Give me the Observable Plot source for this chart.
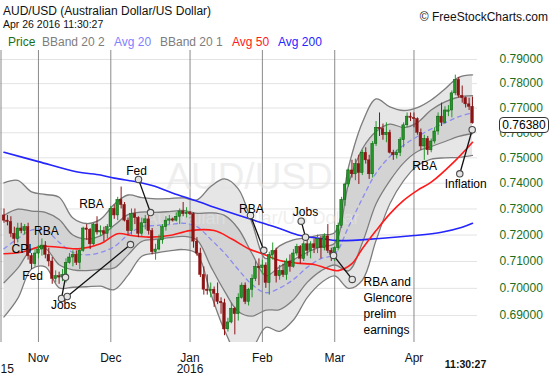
<!DOCTYPE html>
<html><head><meta charset="utf-8">
<script src="https://cdn.jsdelivr.net/npm/d3@7"></script>
<script src="https://cdn.jsdelivr.net/npm/@observablehq/plot@0.6"></script>
<style>
body{margin:0;background:#fff;}
#wrap{position:relative;width:550px;height:375px;overflow:hidden;font-family:"Liberation Sans",Arial,sans-serif;}
.t{position:absolute;white-space:nowrap;line-height:1;}
</style></head><body>
<div id="wrap"></div>
<script>
// ---- daily candles (bar index 0 = 2015-10-19 ... 136 = 2016-04-26)
const opens = [.7275,.7255,.7250,.7205,.7185,.7225,.7215,.7230,.7120,.7090,
.7130,.7145,.7160,.7125,.7100,.7035,.7045,.7040,.7050,.7095,.7115,.7125,.7095,.7140,.7225,.7220,.7165,.7240,.7210,.7215,.7205,
.7230,.7300,.7275,.7335,.7315,.7255,.7215,.7280,.7265,.7205,.7245,.7260,.7215,.7135,.7145,.7180,.7230,.7255,.7260,.7255,.7270,.7290,.7280,
.7285,.7280,.7175,.7130,.7050,.6995,.6990,.6995,.6980,.6950,.6945,.6850,.6875,.6925,.6905,.6965,.7010,.6950,.6995,.7035,.7080,
.7075,.7085,.7020,.7125,.7140,.7045,.7065,.7050,.7100,.7080,.7130,.7155,.7110,.7165,.7140,.7165,.7150,.7185,.7150,.7195,.7140,
.7125,.7150,.7235,.7335,.7395,.7450,.7435,.7475,.7440,.7520,.7490,.7435,.7555,.7620,.7615,.7590,.7600,.7520,.7510,.7520,.7570,.7630,.7665,
.7660,.7655,.7600,.7545,.7575,.7530,.7565,.7605,.7665,.7640,.7685,.7690,.7760,.7815,.7750,.7740,.7715,.7705];
const highs = [.7300,.7275,.7270,.7230,.7245,.7245,.7240,.7245,.7130,.7145,
.7160,.7185,.7175,.7150,.7115,.7065,.7060,.7070,.7110,.7130,.7140,.7140,.7150,.7230,.7240,.7225,.7245,.7270,.7235,.7230,.7240,
.7310,.7315,.7345,.7385,.7325,.7265,.7300,.7300,.7270,.7265,.7275,.7290,.7225,.7165,.7200,.7240,.7270,.7275,.7265,.7285,.7300,.7325,.7305,
.7290,.7285,.7190,.7150,.7080,.7050,.7020,.7005,.7020,.6965,.6960,.6890,.6945,.6930,.6980,.7020,.7020,.7000,.7050,.7100,.7110,
.7105,.7095,.7135,.7170,.7150,.7085,.7090,.7110,.7125,.7145,.7165,.7160,.7175,.7185,.7175,.7185,.7200,.7195,.7205,.7240,.7150,
.7155,.7245,.7345,.7400,.7455,.7490,.7495,.7510,.7530,.7540,.7510,.7565,.7645,.7680,.7635,.7640,.7610,.7530,.7530,.7580,.7640,.7680,.7680,
.7680,.7660,.7615,.7590,.7585,.7575,.7620,.7680,.7720,.7705,.7710,.7770,.7835,.7825,.7790,.7745,.7740,.7745];
const lows = [.7245,.7235,.7190,.7165,.7170,.7205,.7200,.7105,.7070,.7080,
.7110,.7120,.7110,.7080,.7015,.7020,.7015,.7025,.7020,.7090,.7080,.7085,.7070,.7135,.7180,.7145,.7160,.7200,.7195,.7175,.7185,
.7220,.7260,.7255,.7300,.7250,.7200,.7200,.7240,.7190,.7195,.7220,.7200,.7125,.7105,.7140,.7165,.7215,.7240,.7250,.7250,.7240,.7270,.7265,
.7275,.7150,.7120,.7040,.6975,.6975,.6965,.6930,.6940,.6905,.6827,.6840,.6870,.6830,.6880,.6960,.6940,.6935,.6965,.7025,.7010,
.7050,.7000,.6975,.7105,.7020,.7030,.7040,.7030,.7060,.7075,.7120,.7090,.7100,.7120,.7110,.7130,.7130,.7110,.7140,.7130,.7100,
.7100,.7140,.7225,.7310,.7385,.7420,.7410,.7395,.7430,.7475,.7415,.7420,.7545,.7585,.7570,.7560,.7515,.7490,.7495,.7505,.7540,.7620,.7645,
.7620,.7590,.7530,.7490,.7510,.7520,.7555,.7590,.7625,.7635,.7665,.7660,.7750,.7740,.7720,.7700,.7690,.7635];
const closes = [.7255,.7250,.7205,.7185,.7225,.7215,.7230,.7120,.7090,.7130,
.7145,.7160,.7125,.7100,.7035,.7045,.7040,.7050,.7095,.7115,.7125,.7095,.7140,.7225,.7220,.7165,.7240,.7210,.7215,.7205,.7230,
.7300,.7275,.7335,.7315,.7255,.7215,.7280,.7265,.7205,.7245,.7260,.7215,.7135,.7145,.7180,.7230,.7255,.7260,.7255,.7270,.7290,.7280,.7285,
.7280,.7175,.7130,.7050,.6995,.6990,.6995,.6980,.6950,.6945,.6850,.6875,.6925,.6905,.6965,.7010,.6950,.6995,.7035,.7080,.7075,
.7085,.7020,.7125,.7140,.7045,.7065,.7050,.7100,.7080,.7130,.7155,.7110,.7165,.7140,.7165,.7150,.7185,.7150,.7195,.7140,.7125,
.7150,.7235,.7335,.7395,.7450,.7435,.7475,.7440,.7520,.7490,.7435,.7555,.7620,.7615,.7590,.7600,.7520,.7510,.7520,.7570,.7630,.7665,.7660,
.7655,.7600,.7545,.7575,.7530,.7565,.7605,.7665,.7640,.7690,.7690,.7760,.7815,.7750,.7740,.7715,.7705,.7638];

// ---- Bollinger bands (20,2) / (20,1) and 20-day average, read at sample bars
const bandIdx = [0,4,8,12,16,20,24,28,32,36,40,44,48,52,56,60,64,68,72,76,80,84,88,92,96,100,104,108,112,116,120,124,128,132,136];
const bandMid = [.7148,.7187,.7219,.7218,.7173,.7134,.7125,.7134,.7156,.7201,.7232,.7236,.7240,.7245,.7232,.7184,.7132,.7070,.7014,.6984,.7001,.7033,.7078,.7111,.7128,.7231,.7340,.7440,.7505,.7550,.7585,.7615,.7640,.7665,.7680];
const bandU2 = [.7401,.7411,.7366,.7356,.7345,.7265,.7244,.7260,.7318,.7354,.7344,.7339,.7340,.7343,.7335,.7387,.7417,.7378,.7246,.7111,.7159,.7182,.7190,.7201,.7210,.7463,.7640,.7737,.7705,.7690,.7702,.7733,.7778,.7826,.7836];
const bandU1 = [.7275,.7299,.7292,.7287,.7259,.7200,.7185,.7197,.7237,.7278,.7288,.7287,.7290,.7294,.7283,.7285,.7275,.7224,.7130,.7047,.7080,.7107,.7134,.7156,.7169,.7397,.7535,.7605,.7635,.7621,.7641,.7692,.7725,.7745,.7751];
const bandL1 = [.7021,.7075,.7145,.7149,.7088,.7069,.7066,.7071,.7076,.7125,.7176,.7184,.7190,.7195,.7181,.7082,.6990,.6915,.6898,.6920,.6922,.6958,.7022,.7065,.7087,.7065,.7170,.7320,.7410,.7480,.7525,.7545,.7565,.7585,.7597];
const bandL2 = [.6895,.6963,.7072,.7080,.7002,.7004,.7006,.7008,.6995,.7049,.7120,.7132,.7140,.7145,.7129,.6981,.6847,.6761,.6782,.6857,.6843,.6884,.6966,.7020,.7046,.7000,.7030,.7180,.7320,.7410,.7470,.7495,.7500,.7502,.7510];

// ---- 50 and 200 day averages
const ma50Idx = [0,5,11,16,22,28,33,37,42,48,54,61,66,71,75,80,85,90,94,97,101,104,108,112,116,120,124,131,136];
const ma50Val = [.7129,.7135,.7157,.7154,.7148,.7167,.7205,.7198,.7192,.7198,.7217,.7217,.7186,.7148,.7129,.7104,.7094,.7089,.7073,.7066,.7092,.7148,.7217,.7281,.7333,.7372,.7404,.7489,.7562];
const ma200Idx = [0,10,21,28,32,39,43,51,57,61,71,80,86,92,97,109,119,127,133,136];
const ma200Val = [.7522,.7485,.7445,.7432,.7420,.7404,.7391,.7352,.7326,.7307,.7263,.7225,.7198,.7187,.7179,.7187,.7198,.7211,.7230,.7245];

// ---- axes
const yTicks = [0.69,0.70,0.71,0.72,0.73,0.74,0.75,0.76,0.77,0.78,0.79];
const monthLabels = ["Nov","Dec","Jan","Feb","Mar","Apr"];
const monthIdx = [10,31,54,75,96,119];
const yearLabels = ["15","2016"];
const stamp = "11:30:27";

// ---- annotations
const noteText = ["CPI","Fed","RBA","Jobs","RBA","Fed","RBA","Jobs","RBA","Inflation"];
const noteIdx = [5.1,8.3,12.3,17.3,25.4,38.5,71.8,87.5,122.1,134.0];
const notePrice = [0.7145,0.7044,0.7214,0.6937,0.7317,0.7446,0.7298,0.7286,0.7466,0.7395];
const bigNote = "RBA and\nGlencore\nprelim\nearnings";
const bigNoteIdx = 104.35, bigNotePrice = 0.7050;
const leadFromIdx = [16.69,18.35,39.04,71.55,86.27,101.07,132.3];
const leadFromPrice = [0.6963,0.6970,0.7415,0.7275,0.7253,0.7033,0.7437];
const leadToIdx = [17.85,36.72,42.53,75.41,87.52,95.65,135.9];
const leadToPrice = [0.7041,0.7164,0.7286,0.7142,0.7192,0.7123,0.7612];

// ---- build tables
const bars = closes.map((c,i)=>({i, o:opens[i], h:highs[i], l:lows[i], c, up:c>=opens[i]}));
const band = bandIdx.map((i,k)=>({i, mid:bandMid[k], u2:bandU2[k], u1:bandU1[k], l1:bandL1[k], l2:bandL2[k]}));
const ma50 = ma50Idx.map((i,k)=>({i, v:ma50Val[k]}));
const ma200 = ma200Idx.map((i,k)=>({i, v:ma200Val[k]}));
const notes = noteText.map((t,k)=>({t, i:noteIdx[k], p:notePrice[k]}));
const leads = leadFromIdx.map((a,k)=>({x1:a, y1:leadFromPrice[k], x2:leadToIdx[k], y2:leadToPrice[k]}));
const circles = leads.flatMap(d=>[{i:d.x1,p:d.y1},{i:d.x2,p:d.y2}]);

const UP="#23962a", UPS="#0d5c0d", DN="#8b1414";
const curve="catmull-rom";
const bandLine = {x:"i", stroke:"#7d7d7d", strokeWidth:1.3, curve, clip:true};
const fmt = d3.format(".5f");

const chart = Plot.plot({
  width:550, height:375,
  marginLeft:0, marginRight:73, marginTop:50, marginBottom:33,
  style:{fontFamily:'"Liberation Sans", Arial, sans-serif', fontSize:"12px", background:"white", overflow:"visible"},
  x:{type:"linear", domain:[-1.016,137.44], axis:null},
  y:{type:"log", domain:[0.68025,0.79377], axis:null},
  marks:[
    Plot.ruleY(yTicks,{stroke:"#e3e3e3"}),
    Plot.areaY(band,{x:"i", y1:"l2", y2:"u2", fill:"#e6e6e6", curve, clip:true}),
    Plot.areaY(band,{x:"i", y1:"l1", y2:"u1", fill:"#d3d3d3", curve, clip:true}),
    Plot.ruleX(monthIdx,{stroke:"#8a8a8a"}),
    Plot.ruleX([-1.016],{stroke:"#8a8a8a", dx:0.5}),
    Plot.text(["AUD/USD"],{text:d=>d, frameAnchor:"top-left", textAnchor:"middle", lineAnchor:"middle", dx:249, dy:127, fontSize:37, fill:"#e4e4e4", fillOpacity:0.6}),
    Plot.text(["Australian Dollar/US Dollar"],{text:d=>d, frameAnchor:"top-left", textAnchor:"middle", lineAnchor:"middle", dx:252, dy:168, fontSize:18, fill:"#e4e4e4", fillOpacity:0.6}),
    Plot.line(band,{...bandLine, y:"u2"}),
    Plot.line(band,{...bandLine, y:"u1"}),
    Plot.line(band,{...bandLine, y:"l1"}),
    Plot.line(band,{...bandLine, y:"l2"}),
    Plot.line(band,{x:"i", y:"mid", stroke:"#8c8cf0", strokeWidth:1.3, strokeDasharray:"4,4", curve}),
    Plot.line(ma200,{x:"i", y:"v", stroke:"#2424ff", strokeWidth:1.6, curve}),
    Plot.line(ma50,{x:"i", y:"v", stroke:"#ff1a1a", strokeWidth:1.6, curve}),
    Plot.ruleX(bars,{x:"i", y1:"l", y2:"h", stroke:d=>d.up?UP:DN, strokeWidth:1}),
    Plot.rect(bars,{x1:d=>d.i-0.37, x2:d=>d.i+0.37, y1:"o", y2:"c", fill:d=>d.up?UP:DN, stroke:d=>d.up?UPS:DN, strokeWidth:0.5}),
    Plot.link(leads,{x1:"x1", y1:"y1", x2:"x2", y2:"y2", stroke:"#111", strokeWidth:1.3}),
    Plot.dot(circles,{x:"i", y:"p", r:3.2, stroke:"#4a4a4a", strokeWidth:1.1, fill:"#e4e4e4"}),
    Plot.text(notes,{x:"i", y:"p", text:"t", fontSize:12, fill:"#000"}),
    Plot.text([bigNote],{x:()=>bigNoteIdx, y:()=>bigNotePrice, text:d=>d, textAnchor:"start", lineAnchor:"top", lineHeight:1.33, fontSize:12, fill:"#000"}),
    Plot.text(yTicks,{y:d=>d, text:d=>fmt(d), frameAnchor:"right", textAnchor:"start", dx:22, fontSize:12, fill:"#1b6e1b"}),
    Plot.text(monthIdx,{x:d=>d, text:d=>monthLabels[monthIdx.indexOf(d)], frameAnchor:"bottom", textAnchor:"middle", lineAnchor:"top", dy:11, fontSize:12, fill:"#111"}),
    Plot.text([monthIdx[2]],{x:d=>d, text:()=>yearLabels[1], frameAnchor:"bottom", textAnchor:"middle", lineAnchor:"top", dy:22, fontSize:12, fill:"#111"}),
    Plot.text([yearLabels[0]],{text:d=>d, frameAnchor:"bottom-left", textAnchor:"start", lineAnchor:"top", dx:0, dy:22, fontSize:12, fill:"#111"}),
    Plot.text([stamp],{text:d=>d, frameAnchor:"bottom-right", textAnchor:"middle", lineAnchor:"middle", dx:-12, dy:22, fontSize:10.5, fontWeight:"bold", fill:"#111"})
  ]
});
const wrap = document.getElementById("wrap");
wrap.appendChild(chart);

function addText(txt, left, top, size, color, extra){
  const s=document.createElement("div"); s.className="t"; s.textContent=txt;
  s.style.left=left+"px"; s.style.top=top+"px"; s.style.fontSize=size+"px"; s.style.color=color;
  if(extra) Object.assign(s.style, extra);
  wrap.appendChild(s); return s;
}
addText("AUD/USD (Australian Dollar/US Dollar)",3,4.6,12,"#111");
addText("Apr 26 2016 11:30:27",3,19,10.5,"#111");
addText("\u00A9 FreeStockCharts.com",0,10.8,12,"#111",{left:"auto",right:"2px"});
const legend=[["Price","#1b6e1b",8],["BBand 20 2","#7d7d7d",42],["Avg 20","#8080ff",114],["BBand 20 1","#7d7d7d",160],["Avg 50","#ff1a1a",232],["Avg 200","#2424ff",278]];
legend.forEach(([t,c,x])=>addText(t,x,35.8,12,c));
// last price tag
const last = closes[closes.length-1];
const yPix = chart.scale("y").apply(last);
addText(fmt(last),499,yPix-6,12,"#000",{background:"#fff",border:"1px solid #333",borderRadius:"4px",padding:"1px 2px 1px 2px",width:"44px",textAlign:"center"});
</script>
</body></html>
